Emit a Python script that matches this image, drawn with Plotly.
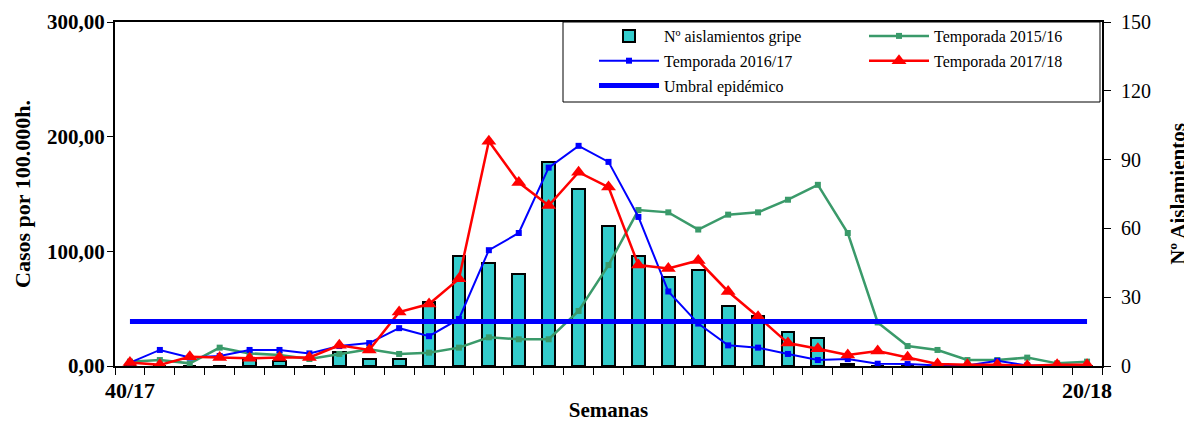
import plotly.graph_objects as go

weeks = [f"{w}/17" for w in range(40, 53)] + [f"{w:02d}/18" for w in range(1, 21)]
aislamientos = [0, 0, 0, 0, 3, 2, 0, 6, 3, 3, 28, 48, 45, 40, 89, 77, 61, 48, 39, 42,
                26, 22, 15, 12, 1, 0, 0, 0, 0, 0, 0, 0, 0]
temp_2015_16 = [3.8, 5.2, 2.3, 16, 11, 9.6, 6.1, 10.5, 14.5, 10.5, 11.6, 16, 25, 23.3, 23.3,
                48, 88, 136, 134, 119, 132, 134, 145, 158, 116, 38, 17.4, 14, 5.2, 5.2, 7.3, 2.3, 3.8]
temp_2016_17 = [3, 14, 7.5, 8.7, 14, 14, 11, 17.4, 20, 33, 26, 41, 101, 116, 173, 192, 178,
                130, 65, 37, 18, 16, 10.5, 5.2, 6, 2, 1.7, 0.5, 0.5, 4.5, 0.5, 0.5, 0.5]
temp_2017_18 = [3, 1, 8, 7.5, 6.7, 7.5, 7.5, 18, 14, 47, 54, 76, 196, 160, 140, 169, 156,
                88, 85, 92, 65, 43, 20, 15, 9.6, 13, 7.6, 1.7, 1, 1, 0.3, 1, 1]
umbral_valor = 38.7
umbral = [umbral_valor] * len(weeks)

x = list(range(len(weeks)))
FONT = "Liberation Serif"

fig = go.Figure()
fig.add_trace(go.Bar(x=x, y=aislamientos, name="Nº aislamientos gripe", yaxis="y",
                     legend="legend", legendgroup="a",
                     marker=dict(color="#33CCCC", line=dict(color="black", width=2)),
                     width=0.43))
fig.add_trace(go.Scatter(x=x, y=temp_2015_16, name="Temporada 2015/16", yaxis="y2",
                         legend="legend2", legendgroup="b",
                         mode="lines+markers", line=dict(color="#3A9A6A", width=2.5),
                         marker=dict(symbol="square", size=6, color="#3A9A6A")))
fig.add_trace(go.Scatter(x=x, y=temp_2016_17, name="Temporada 2016/17", yaxis="y2",
                         legend="legend", legendgroup="c",
                         mode="lines+markers", line=dict(color="#0000FF", width=2),
                         marker=dict(symbol="square", size=6, color="#0000FF")))
fig.add_trace(go.Scatter(x=x, y=temp_2017_18, name="Temporada 2017/18", yaxis="y2",
                         legend="legend2", legendgroup="d",
                         mode="lines+markers", line=dict(color="#FF0000", width=2.5),
                         marker=dict(symbol="triangle-up", size=13, color="#FF0000")))
fig.add_trace(go.Scatter(x=x, y=umbral, name="Umbral epidémico", yaxis="y2",
                         legend="legend", legendgroup="e",
                         mode="lines", line=dict(color="#0000FF", width=5)))

# page has an 8px body margin: figure is sized/placed to compensate
OFF = 8
W, H = 1192 - OFF, 423 - OFF
L, R, T, B = 115 - OFF, 90, 22 - OFF, 57
pw, ph = W - L - R, H - T - B

def px_x(p):
    return (p - OFF - L) / pw

def px_y(p):
    return (H - B - (p - OFF)) / ph

leg_common = dict(orientation="v", xanchor="left", yanchor="top", y=px_y(19),
                  bgcolor="rgba(0,0,0,0)", borderwidth=0,
                  font=dict(family=FONT, size=16, color="black"),
                  itemwidth=60, tracegroupgap=1, traceorder="grouped")

fig.update_layout(
    width=W, height=H,
    margin=dict(l=L, r=R, t=T, b=B, autoexpand=False),
    paper_bgcolor="white", plot_bgcolor="white",
    separators=",.",
    font=dict(family=FONT, color="black"),
    bargap=0,
    showlegend=True,
    legend=dict(x=px_x(594), **leg_common),
    legend2=dict(x=px_x(864), **leg_common),
    shapes=[dict(type="rect", xref="paper", yref="paper",
                 x0=px_x(563), x1=px_x(1100), y0=px_y(102), y1=1,
                 line=dict(color="black", width=1), fillcolor="white", layer="above")],
    xaxis=dict(range=[-0.5, len(weeks) - 0.5], automargin=False,
               tickmode="array", tickvals=[x[0], x[-1]], ticktext=[weeks[0], weeks[-1]],
               ticks="", ticklabelstandoff=4,
               tickfont=dict(family=FONT, size=22, weight="bold"),
               minor=dict(ticks="outside", tickmode="linear", tick0=-0.5, dtick=1,
                          ticklen=7, tickcolor="black", tickwidth=1),
               showline=True, linecolor="black", linewidth=2, mirror=True,
               showgrid=False, zeroline=False,
               title=dict(text="Semanas", standoff=0,
                          font=dict(family=FONT, size=21, weight="bold"))),
    yaxis=dict(side="right", range=[0, 150], dtick=30, tick0=0, automargin=False,
               ticks="outside", ticklen=7, tickcolor="black",
               showline=True, linecolor="black", linewidth=2,
               showgrid=False, zeroline=False, ticklabelstandoff=6,
               tickfont=dict(family=FONT, size=20),
               title=dict(text="Nº Aislamientos", standoff=20,
                          font=dict(family=FONT, size=21, weight="bold"))),
    yaxis2=dict(overlaying="y", side="left", range=[0, 300], dtick=100, tick0=0,
                automargin=False,
                tickformat=".2f", ticks="outside", ticklen=6, tickcolor="black",
                showline=True, linecolor="black", linewidth=2,
                showgrid=False, zeroline=False, ticklabelstandoff=-2,
                tickfont=dict(family=FONT, size=21, weight="bold"),
                title=dict(text="Casos por 100.000h.", standoff=10,
                           font=dict(family=FONT, size=22, weight="bold"))),
)

fig.write_html("out.html")
